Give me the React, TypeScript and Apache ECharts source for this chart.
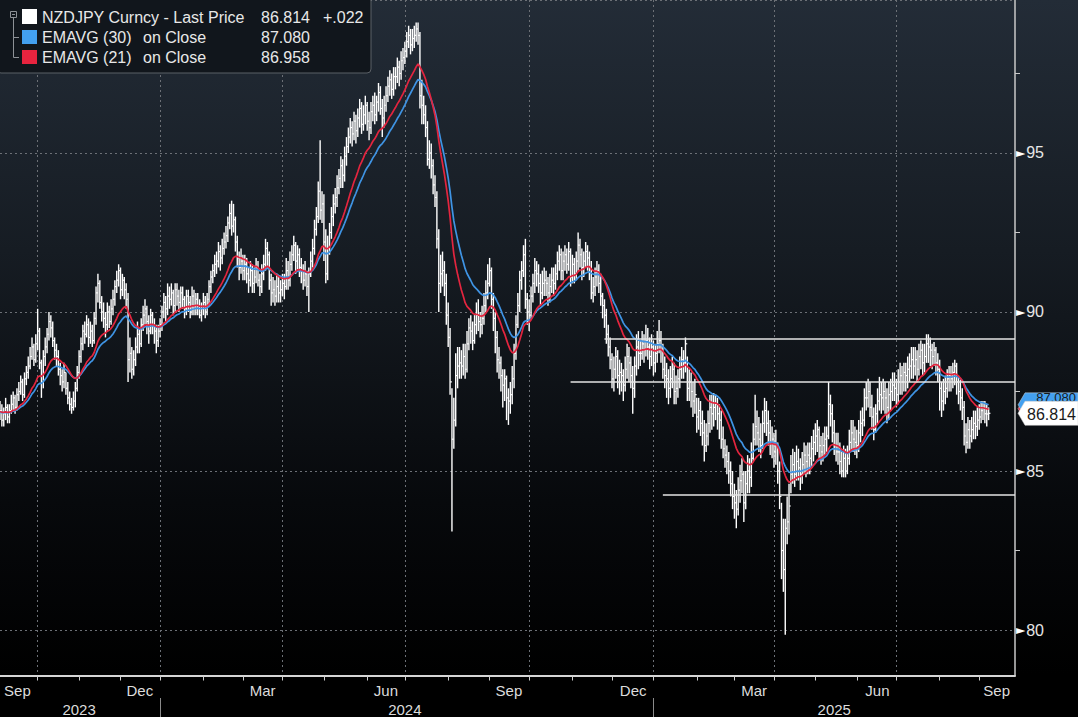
import React, { useEffect, useRef } from "react";
import * as echarts from "echarts";

// ---------- DATA (daily bars: [high, low, close]) ----------
const START_DATE = "2023-09-04";
const AXIS_DAYS = 540;

const barsSep2023Dec2023: number[][] = [
  [87.2,86.6,86.9],[87.1,86.4,86.6],[87.0,86.4,86.8],[87.3,86.6,87.0],[87.1,86.5,86.7],
  [87.1,86.5,86.9],[87.4,86.8,87.1],[87.5,86.9,87.3],[87.4,86.8,87.0],[87.6,86.9,87.4],
  [87.8,87.2,87.5],[88.0,87.4,87.8],[87.9,87.2,87.4],[88.1,87.3,87.9],[88.3,87.7,88.1],
  [88.6,87.9,88.3],[88.9,88.2,88.6],[89.2,88.5,88.9],[89.0,88.3,88.5],[89.3,88.4,89.0],
  [90.1,88.8,89.4],[89.5,88.2,88.4],[88.5,87.3,87.8],[88.8,87.6,88.6],[89.2,88.3,88.9],
  [89.5,88.7,89.3],[90.0,89.1,89.7],[89.9,89.2,89.5],[89.7,88.9,89.1],[89.2,88.5,88.8],
  [89.0,88.3,88.6],[88.8,88.0,88.2],[88.4,87.7,88.0],[88.2,87.5,87.8],[88.4,87.6,88.1],
  [88.1,87.4,87.6],[87.8,87.1,87.3],[87.5,86.9,87.1],[87.3,86.8,87.0],[87.5,86.9,87.2],
  [87.8,87.0,87.6],[88.3,87.5,88.1],[88.8,87.9,88.6],[89.2,88.4,89.0],[89.6,88.8,89.4],
  [89.7,89.0,89.3],[89.9,89.2,89.6],[89.8,88.9,89.2],[89.7,89.0,89.4],[89.6,88.9,89.1],
  [90.0,89.0,89.8],[90.8,89.6,90.6],[91.2,90.3,90.9],[91.0,90.1,90.3],[90.5,89.7,90.0],
  [90.3,89.5,89.8],[90.0,89.2,89.6],[90.3,89.4,90.0],[90.2,89.5,89.7],[90.4,89.6,90.1],
  [90.7,89.9,90.4],[91.0,90.2,90.8],[91.3,90.6,91.0],[91.5,90.8,91.3],[91.4,90.4,90.7],
  [91.2,90.5,91.0],[91.1,90.4,90.7],[90.9,90.1,90.4],[90.6,87.8,88.5],[89.2,88.1,88.7],
  [88.9,87.9,88.2],[88.8,88.0,88.5],[89.2,88.3,88.9],[89.7,88.7,89.3],[89.5,88.7,89.0],
  [89.8,88.9,89.6],[90.2,89.4,89.9],[90.4,89.6,90.1],[90.2,89.3,89.7],[89.9,89.0,89.4],
  [90.1,89.3,89.9],[90.0,89.3,89.6],[89.8,89.0,89.4],[89.6,88.7,89.1],[89.6,88.9,89.4],
];

const barsJan2024Jun2024: number[][] = [
  [89.8,89.2,89.6],[90.2,89.4,90.0],[90.6,89.8,90.3],[90.5,89.7,90.1],[90.9,89.9,90.5],
  [90.8,90.1,90.4],[90.9,90.2,90.6],[90.7,89.9,90.2],[90.9,90.0,90.7],[90.9,90.2,90.5],
  [90.7,90.0,90.3],[90.8,90.1,90.6],[90.8,90.1,90.4],[90.5,89.8,90.1],[90.7,89.9,90.5],
  [90.7,90.0,90.3],[90.5,89.8,90.0],[90.8,89.9,90.5],[90.7,89.9,90.2],[90.6,89.9,90.4],
  [90.6,89.9,90.2],[90.4,89.8,89.9],[90.3,89.7,90.1],[90.6,89.9,90.3],[90.5,89.8,90.0],
  [90.6,89.9,90.4],[91.0,90.2,90.8],[91.3,90.6,91.1],[91.5,90.9,91.3],[91.8,91.1,91.5],
  [91.9,91.2,91.6],[92.2,91.4,91.9],[92.1,91.3,91.7],[92.3,91.5,92.0],[92.5,91.8,92.2],
  [92.7,92.0,92.4],[93.0,92.2,92.8],[93.4,92.6,93.1],[93.5,92.4,92.7],[93.4,92.5,92.9],
  [93.0,91.9,92.2],[92.4,91.4,91.7],[91.9,91.0,91.4],[92.0,91.2,91.6],[91.8,91.0,91.3],
  [91.8,91.0,91.5],[91.7,90.9,91.2],[91.4,90.6,91.0],[91.6,90.8,91.3],[91.5,90.6,90.9],
  [91.4,90.6,91.1],[91.7,90.9,91.4],[91.6,90.8,91.0],[91.2,90.5,90.8],[91.5,90.6,91.2],
  [91.8,91.0,91.5],[92.3,91.3,92.0],[92.2,91.4,91.8],[91.9,90.7,91.0],[91.2,90.2,90.6],
  [91.1,90.3,90.7],[91.0,90.2,90.5],[91.2,90.3,90.8],[91.1,90.3,90.6],[91.0,90.3,90.7],
  [91.2,90.5,90.9],[91.2,90.4,90.8],[91.7,90.7,91.3],[91.6,90.7,91.0],[91.9,90.8,91.5],
  [92.1,91.3,91.8],[92.4,91.6,92.1],[92.2,91.2,91.6],[92.1,91.3,91.8],[92.0,91.1,91.4],
  [91.7,90.9,91.3],[91.5,90.7,91.0],[91.6,90.8,91.2],[91.3,90.5,90.8],[91.4,90.0,91.2],
  [91.9,91.1,91.6],[92.3,91.4,92.0],[92.9,91.8,92.6],[93.3,92.4,93.0],[94.1,92.8,93.8],
  [95.4,92.9,93.2],[93.8,92.8,93.4],[93.7,91.6,92.2],[92.6,90.9,91.2],[92.4,91.0,92.0],
  [92.8,91.8,92.5],[93.3,92.3,93.0],[93.7,92.7,93.4],[93.9,93.1,93.6],[94.3,93.3,93.9],
  [94.5,93.7,94.2],[94.9,93.9,94.6],[94.8,93.9,94.3],[95.2,94.1,94.9],[95.5,94.6,95.2],
  [95.8,95.0,95.5],[96.1,95.3,95.8],[96.0,95.2,95.6],[96.3,95.4,96.0],[96.2,95.3,95.7],
  [96.4,95.5,96.1],[96.7,95.8,96.4],[96.6,95.6,95.9],[96.5,95.7,96.2],[96.8,95.9,96.5],
  [96.6,95.7,96.0],[96.3,95.4,95.8],[96.6,95.6,96.3],[96.8,96.0,96.5],[96.9,95.9,96.2],
  [96.8,96.0,96.6],[97.2,96.3,96.9],[97.1,96.2,96.4],[96.7,95.5,96.1],[96.8,95.8,96.5],
  [97.1,96.3,96.8],[97.4,96.6,97.1],[97.6,96.8,97.3],[97.5,96.7,97.0],[97.7,96.8,97.4],
  [97.7,97.0,97.4],[98.0,97.2,97.7],[97.9,97.1,97.5],[98.2,97.3,97.9],[98.3,97.6,98.0],
];

const barsJul2024Dec2024: number[][] = [
  [98.5,97.8,98.2],[98.8,98.0,98.5],[99.0,98.3,98.7],[98.9,98.1,98.4],[98.9,98.2,98.6],
  [99.0,98.3,98.7],[99.1,98.5,98.9],[99.1,98.4,98.7],[98.8,96.4,96.8],[97.3,95.9,96.5],
  [96.8,95.9,96.2],[96.5,95.5,95.8],[96.0,94.6,94.8],[95.4,94.5,95.0],[95.3,94.2,94.6],
  [94.8,93.7,94.0],[94.3,93.3,93.6],[93.8,92.0,92.3],[92.6,90.0,90.9],[91.8,90.6,91.2],
  [91.9,90.8,91.3],[91.6,90.5,90.9],[91.2,89.6,89.9],[90.3,88.9,89.2],[89.5,87.4,87.8],
  [87.6,83.1,86.0],[87.3,85.7,86.6],[88.7,86.4,88.0],[88.9,87.6,88.3],[88.9,87.9,88.4],
  [88.8,87.9,88.3],[89.0,88.0,88.6],[89.0,87.9,88.2],[89.4,88.1,89.0],[89.8,88.8,89.5],
  [89.9,89.0,89.4],[89.7,88.8,89.1],[89.9,89.0,89.6],[90.3,89.3,89.9],[90.4,89.4,89.7],
  [90.0,89.2,89.6],[90.2,89.3,89.8],[90.6,89.6,90.2],[91.0,90.0,90.6],[91.5,90.4,90.9],
  [91.7,90.8,91.3],[91.4,90.1,90.4],[90.6,89.4,89.8],[90.0,88.7,89.2],[89.4,88.1,88.5],
  [88.9,87.9,88.4],[88.6,87.5,88.0],[88.2,87.0,87.7],[88.2,87.2,87.9],[88.0,86.6,87.3],
  [87.6,86.45,87.2],[87.8,86.8,87.4],[88.3,87.1,87.9],[89.0,87.6,88.7],[89.9,88.5,89.6],
  [90.6,89.5,90.2],[91.3,90.0,91.0],[91.6,90.7,91.3],[92.1,91.1,91.8],[92.3,90.1,90.4],
  [90.6,89.6,90.0],[90.4,89.4,89.9],[90.8,89.8,90.5],[91.2,90.3,90.9],[91.7,90.6,91.3],
  [91.6,90.8,91.2],[91.5,90.6,90.9],[91.2,90.2,90.6],[91.3,90.4,90.9],[91.4,90.5,91.0],
  [91.3,90.5,90.9],[91.1,90.2,90.6],[91.2,90.3,90.8],[91.4,90.6,91.0],[91.4,90.5,90.9],
  [91.5,90.7,91.2],[91.9,91.0,91.6],[92.1,91.3,91.8],[92.0,91.0,91.3],[91.9,91.0,91.6],
  [92.1,91.3,91.8],[92.0,91.2,91.5],[92.2,91.3,91.9],[92.0,90.8,91.1],[91.8,90.9,91.5],
  [91.7,90.9,91.2],[91.9,91.0,91.6],[92.5,91.3,92.1],[92.3,91.4,91.8],[92.0,91.0,91.4],
  [91.9,91.1,91.6],[92.2,91.4,91.9],[92.1,91.3,91.7],[91.9,91.0,91.4],[91.6,90.4,90.6],
  [91.1,90.3,90.8],[91.4,90.5,91.1],[91.6,90.8,91.3],[91.5,90.6,90.9],[91.2,90.2,90.5],
  [90.6,89.8,90.2],[90.4,89.5,89.9],[90.1,89.0,89.3],[89.6,88.6,88.9],[89.2,88.2,88.5],
  [88.7,87.6,87.9],[88.6,87.5,88.2],[88.9,87.9,88.6],[88.8,87.6,88.0],[88.5,87.4,88.1],
  [88.4,87.5,88.0],[88.2,87.2,87.7],[88.6,87.5,88.2],[89.0,87.9,88.6],[88.9,87.8,88.4],
  [88.6,87.6,88.0],[88.3,86.8,87.6],[88.6,87.3,88.3],[89.3,88.0,88.9],[89.4,88.2,88.7],
  [89.1,88.3,88.7],[89.4,88.5,89.0],[89.3,88.4,88.8],[89.6,88.6,89.1],[89.5,88.5,88.9],
];

const barsJan2025Sep2025: number[][] = [
  [89.2,88.2,88.6],[89.3,88.3,88.9],[89.1,88.0,88.4],[89.0,88.1,88.7],[89.4,88.4,89.0],
  [89.75,88.7,89.1],[89.4,88.4,88.8],[89.0,87.9,88.2],[88.6,87.6,88.0],[88.4,87.3,87.9],
  [88.2,87.1,87.6],[88.3,87.3,87.9],[88.6,87.6,88.2],[88.4,87.1,87.5],[88.0,87.1,87.6],
  [88.2,87.3,87.9],[88.6,87.6,88.2],[88.9,87.9,88.5],[88.8,87.9,88.4],[89.2,88.1,89.0],
  [88.6,87.2,87.6],[88.2,87.2,87.8],[88.1,87.0,87.5],[87.8,86.7,87.2],[87.9,86.8,87.4],
  [87.3,86.2,86.7],[87.3,86.3,86.9],[87.2,86.1,86.5],[86.9,85.8,86.2],[86.6,85.3,85.8],
  [86.5,85.6,86.1],[86.9,85.8,86.5],[87.4,86.2,87.0],[87.4,86.3,86.8],[87.45,86.4,87.0],
  [87.4,86.6,87.1],[87.3,86.3,86.8],[87.1,86.0,86.6],[86.9,85.7,86.0],[86.4,85.4,85.7],
  [86.0,85.1,85.5],[85.8,84.9,85.3],[85.6,84.6,85.0],[85.3,84.2,84.6],[85.0,83.8,84.2],
  [84.6,83.5,84.0],[84.4,83.2,83.8],[84.8,83.6,84.4],[85.2,84.0,84.7],[85.4,84.3,84.9],
  [85.0,83.4,84.0],[85.0,83.8,84.6],[85.5,84.3,85.0],[85.4,84.3,84.8],[85.9,84.5,85.4],
  [86.5,85.3,86.0],[87.4,85.8,86.4],[86.9,85.8,86.2],[86.7,85.6,86.0],[86.5,85.4,85.8],
  [86.9,85.7,86.5],[87.3,86.2,86.9],[87.2,86.1,86.5],[86.9,85.8,86.2],[86.6,85.5,85.9],
  [86.4,85.4,86.0],[86.2,85.1,85.6],[86.3,85.2,85.8],[85.9,84.6,85.0],[85.3,83.8,84.2],
  [84.0,81.6,82.5],[83.5,81.2,81.9],[83.5,79.85,83.2],[84.2,82.7,83.4],[84.6,83.0,83.9],
  [85.5,84.3,84.9],[85.7,84.6,85.2],[85.6,84.5,84.9],[85.8,84.7,85.3],[85.7,84.7,85.1],
  [85.4,84.4,84.9],[85.6,84.6,85.2],[85.9,84.9,85.5],[85.8,84.8,85.3],[85.9,84.9,85.5],
  [85.9,84.9,85.4],[86.1,85.1,85.7],[86.3,85.3,85.9],[86.5,85.5,86.1],[86.6,85.6,86.3],
  [86.4,85.4,85.8],[86.1,85.2,85.6],[86.2,85.3,85.8],[86.4,85.5,86.0],[86.4,85.6,86.1],
  [87.8,86.0,87.1],[87.4,86.4,86.8],[87.1,85.9,86.2],[86.6,85.5,85.8],[86.2,85.3,85.6],
  [86.2,85.2,85.6],[85.9,84.9,85.3],[85.6,84.8,85.0],[85.8,84.8,85.4],[85.7,84.8,85.0],
  [85.8,84.9,85.4],[86.3,85.2,85.9],[86.6,85.6,86.2],[86.6,85.6,86.0],[86.4,85.5,85.9],
  [86.3,85.4,85.8],[86.6,85.6,86.2],[86.9,85.9,86.5],[87.0,86.1,86.6],[87.6,86.4,87.3],
  [87.8,86.9,87.3],[87.9,87.0,87.5],[87.8,86.7,87.0],[87.4,86.3,86.7],[87.0,85.97,86.3],
  [87.1,86.2,86.8],[87.6,86.5,87.2],[87.96,86.9,87.4],[87.8,86.8,87.3],[87.9,86.9,87.5],
  [87.8,86.8,87.3],[87.6,86.5,87.0],[87.8,86.6,87.4],[87.9,86.9,87.5],[88.1,87.2,87.7],
  [88.1,87.2,87.6],[87.9,87.0,87.4],[88.2,87.1,87.8],[88.4,87.4,88.0],[88.3,87.4,87.8],
  [88.4,87.5,88.1],[88.4,87.5,88.0],[88.6,87.6,88.2],[88.7,87.8,88.3],[88.9,87.9,88.5],
  [88.9,87.9,88.3],[88.9,88.0,88.5],[88.8,87.8,88.2],[89.0,88.0,88.6],[89.1,88.2,88.8],
  [89.0,88.0,88.4],[89.0,88.1,88.6],[89.3,88.4,89.0],[89.3,88.4,88.9],[89.2,88.3,88.8],
  [89.0,88.2,88.6],[89.06,88.3,88.8],[88.9,88.0,88.4],[88.7,87.8,88.2],[88.5,86.9,87.6],
  [87.8,86.7,87.2],[87.9,86.9,87.5],[88.0,87.1,87.6],[88.2,87.3,87.9],[88.3,87.5,88.0],
  [88.3,87.5,87.9],[88.4,87.6,88.1],[88.5,87.7,88.3],[88.4,87.4,87.8],[88.0,87.1,87.5],
  [87.86,86.9,87.3],[87.6,86.6,87.0],[87.2,85.8,86.1],[86.5,85.56,85.9],[86.7,85.7,86.3],
  [86.6,85.7,86.1],[86.7,85.9,86.3],[86.9,86.0,86.5],[86.9,86.0,86.4],[87.0,86.1,86.6],
  [87.1,86.3,86.7],[87.2,86.5,86.9],[87.2,86.6,87.0],[87.2,86.5,86.8],[87.1,86.4,86.792],
  [87.0,86.6,86.814],
];

const emaSeed30 = 86.85;
const emaSeed21 = 86.87;

const legendTitle = "NZDJPY Curncy - Last Price";
const lastPrice = 86.814;
const lastChange = "+.022";
const ema30Last = 87.08;
const ema21Last = 86.958;

// horizontal level lines drawn on the chart: start date and value
const levelStarts = ["2024-11-26", "2024-10-31", "2025-01-08"];
const levelValues = [89.15, 87.81, 84.25];

const monthNames = ["Jan","Feb","Mar","Apr","May","Jun","Jul","Aug","Sep","Oct","Nov","Dec"];
const labelledMonths = [2, 5, 8, 11]; // Mar, Jun, Sep, Dec
const gridMonths = [0, 3, 6, 9];

// ---------- derived ----------
const bars = [...barsSep2023Dec2023, ...barsJan2024Jun2024, ...barsJul2024Dec2024, ...barsJan2025Sep2025];
const closes = bars.map((b) => b[2]);

function ema(values: number[], n: number, seed: number) {
  const k = 2 / (n + 1);
  let e = seed;
  return values.map((v) => {
    e = e + k * (v - e);
    return +e.toFixed(4);
  });
}
const ema30 = ema(closes, 30, emaSeed30);
const ema21 = ema(closes, 21, emaSeed21);

const dates: string[] = [];
{
  const [y, m, d] = START_DATE.split("-").map(Number);
  const dt = new Date(Date.UTC(y, m - 1, d));
  while (dates.length < AXIS_DAYS) {
    const wd = dt.getUTCDay();
    if (wd !== 0 && wd !== 6) dates.push(dt.toISOString().slice(0, 10));
    dt.setUTCDate(dt.getUTCDate() + 1);
  }
}
const monthOf = (s: string) => Number(s.slice(5, 7)) - 1;
const monthKey = (s: string) => s.slice(0, 7);

const tickSet = new Set<number>();
const splitSet = new Set<number>();
const yearTickSet = new Set<number>();
for (let i = 1; i < dates.length; i++) {
  if (monthKey(dates[i]) !== monthKey(dates[i - 1])) {
    tickSet.add(i);
    if (gridMonths.includes(monthOf(dates[i]))) splitSet.add(i);
  }
  if (dates[i].slice(0, 4) !== dates[i - 1].slice(0, 4)) yearTickSet.add(i);
}
// month labels are right-aligned at the end of their month
const labelSet = new Set<number>();
const yearLabelSet = new Set<number>();
{
  const groups: Record<string, number[]> = {};
  const ygroups: Record<string, number[]> = {};
  dates.forEach((s, i) => {
    (groups[monthKey(s)] ||= []).push(i);
    (ygroups[s.slice(0, 4)] ||= []).push(i);
  });
  Object.keys(groups).forEach((k) => {
    const arr = groups[k];
    if (labelledMonths.includes(monthOf(dates[arr[0]]))) {
      labelSet.add(arr[arr.length - 1]);
    }
  });
  Object.keys(ygroups).forEach((k) => {
    const arr = ygroups[k];
    yearLabelSet.add(arr[Math.floor((arr.length - 1) / 2)]);
  });
}

const FONT = '"Liberation Sans", Arial, sans-serif';

export default function App() {
  const ref = useRef<HTMLDivElement>(null);
  useEffect(() => {
    if (!ref.current) return;
    const chart = echarts.init(ref.current, undefined, { renderer: "svg" });
    const lastIdx = dates.length - 1;

    const barData = bars.map((b, i) => [i, b[0], b[1], b[2]]);

    const option: any = {
      animation: false,
      backgroundColor: new echarts.graphic.LinearGradient(0, 0, 0, 1, [
        { offset: 0, color: "#232c37" },
        { offset: 0.35, color: "#161c23" },
        { offset: 0.7, color: "#07090c" },
        { offset: 0.94, color: "#000000" },
        { offset: 1, color: "#000000" },
      ]),
      textStyle: { fontFamily: FONT },
      grid: {
        left: 0,
        right: 63,
        top: 0,
        bottom: 41.5,
        containLabel: false,
        outerBoundsMode: "none",
      },
      xAxis: [
        {
          type: "category",
          data: dates,
          boundaryGap: false,
          axisLine: { show: true, lineStyle: { color: "#d6d6d6", width: 2 } },
          axisTick: {
            show: true,
            interval: (i: number) => tickSet.has(i),
            length: 5,
            lineStyle: { color: "#cfcfcf", width: 1 },
          },
          axisLabel: {
            show: true,
            interval: (i: number) => labelSet.has(i),
            formatter: (v: string) => monthNames[monthOf(v)],
            color: "#dcdcdc",
            fontSize: 15,
            fontFamily: FONT,
            margin: 7,
            align: "right",
            padding: [0, 5, 0, 0],
            showMinLabel: true,
            showMaxLabel: true,
          },
          splitLine: {
            show: true,
            interval: (i: number) => splitSet.has(i),
            lineStyle: { color: "#6c7076", type: [2, 3], width: 1 },
          },
        },
        {
          type: "category",
          data: dates,
          boundaryGap: false,
          position: "bottom",
          offset: 22.5,
          axisLine: { show: false },
          axisTick: {
            show: true,
            interval: (i: number) => yearTickSet.has(i),
            length: 22,
            lineStyle: { color: "#8a8a8a", width: 1 },
          },
          axisLabel: {
            show: true,
            interval: (i: number) => yearLabelSet.has(i),
            formatter: (v: string) => v.slice(0, 4),
            color: "#dcdcdc",
            fontSize: 15,
            fontFamily: FONT,
            margin: 4,
          },
          splitLine: { show: false },
        },
      ],
      yAxis: {
        type: "value",
        position: "right",
        min: 78.57,
        max: 99.81,
        splitNumber: 4,
        axisLine: { show: true, lineStyle: { color: "#c9c9c9", width: 1.5 } },
        axisTick: { show: false },
        minorTick: { show: true, splitNumber: 2, length: 5, lineStyle: { color: "#c9c9c9" } },
        axisLabel: {
          margin: 1,
          showMinLabel: false,
          showMaxLabel: false,
          formatter: (v: number) => `{t|►}{n|${v}}`,
          rich: {
            t: { color: "#ffffff", fontSize: 12, lineHeight: 18, fontFamily: "DejaVu Sans" },
            n: { color: "#e6e6e6", fontSize: 16, lineHeight: 18, fontFamily: FONT, padding: [0, 0, 0, 1] },
          },
        },
        splitLine: { show: true, lineStyle: { color: "#6c7076", type: [2, 3], width: 1 } },
      },
      series: [
        {
          type: "custom",
          name: legendTitle,
          data: barData,
          encode: { x: 0, y: [1, 2] },
          z: 2,
          renderItem: (params: any, api: any) => {
            const x = api.value(0);
            const pH = api.coord([x, api.value(1)]);
            const pL = api.coord([x, api.value(2)]);
            const pC = api.coord([x, api.value(3)]);
            return {
              type: "group",
              children: [
                {
                  type: "line",
                  shape: { x1: pH[0], y1: pH[1], x2: pL[0], y2: pL[1] },
                  style: { stroke: "#ffffff", lineWidth: 1.4 },
                },
                {
                  type: "line",
                  shape: { x1: pC[0], y1: pC[1], x2: pC[0] + 1.8, y2: pC[1] },
                  style: { stroke: "#ffffff", lineWidth: 1.2 },
                },
              ],
            };
          },
          markLine: {
            silent: true,
            symbol: ["none", "none"],
            label: { show: false },
            lineStyle: { color: "#e4e4e4", width: 1.5, type: "solid" },
            data: levelValues.map((v, k) => [
              { xAxis: dates.indexOf(levelStarts[k]), yAxis: v },
              { xAxis: lastIdx, yAxis: v },
            ]),
          },
        },
        {
          type: "line",
          name: "EMAVG (30) on Close",
          data: ema30,
          showSymbol: false,
          symbol: "none",
          z: 3,
          lineStyle: { color: "#3f94e4", width: 1.7 },
        },
        {
          type: "line",
          name: "EMAVG (21) on Close",
          data: ema21,
          showSymbol: false,
          symbol: "none",
          z: 4,
          lineStyle: { color: "#e3253f", width: 1.7 },
        },
      ],
    };
    chart.setOption(option);

    const tagShape = (value: number, fill: string) => {
      const py = chart.convertToPixel({ yAxisIndex: 0 }, value) as number;
      return {
        type: "polygon",
        x: 1015,
        y: py,
        shape: { points: [[3, 0], [10, -12], [63, -12], [63, 12], [10, 12]] },
        style: { fill, stroke: "#d0d0d0", lineWidth: 0.5 },
      };
    };
    const tagText = (value: number, text: string, fill: string, size: number, dy: number) => {
      const py = chart.convertToPixel({ yAxisIndex: 0 }, value) as number;
      return {
        type: "text",
        x: 1076,
        y: py + dy,
        style: {
          text,
          fill,
          font: `${size}px ${FONT}`,
          textAlign: "right",
          textVerticalAlign: "middle",
          align: "right",
          verticalAlign: "middle",
        },
      };
    };

    const legendText = (x: number, y: number, text: string) => ({
      type: "text",
      x,
      y,
      style: {
        text,
        fill: "#e8e8e8",
        font: `16px ${FONT}`,
        textVerticalAlign: "middle",
        verticalAlign: "middle",
      },
    });

    const legend = {
      type: "group",
      x: 0,
      y: 0,
      children: [
        {
          type: "rect",
          shape: { x: -3, y: -3, width: 374, height: 76, r: 4 },
          style: { fill: "#11161c", stroke: "#5b6066", lineWidth: 1 },
        },
        { type: "rect", shape: { x: 10.5, y: 11.5, width: 6, height: 6 }, style: { fill: "none", stroke: "#8d9196", lineWidth: 1 } },
        { type: "line", shape: { x1: 12, y1: 14.5, x2: 15, y2: 14.5 }, style: { stroke: "#8d9196", lineWidth: 1 } },
        { type: "line", shape: { x1: 13.5, y1: 18, x2: 13.5, y2: 57.5 }, style: { stroke: "#8d9196", lineWidth: 1 } },
        { type: "line", shape: { x1: 13.5, y1: 37.5, x2: 19, y2: 37.5 }, style: { stroke: "#8d9196", lineWidth: 1 } },
        { type: "line", shape: { x1: 13.5, y1: 57.5, x2: 19, y2: 57.5 }, style: { stroke: "#8d9196", lineWidth: 1 } },
        { type: "rect", shape: { x: 22, y: 9, width: 15, height: 15 }, style: { fill: "#ffffff" } },
        { type: "rect", shape: { x: 22, y: 30, width: 15, height: 14 }, style: { fill: "#43a0f0" } },
        { type: "rect", shape: { x: 22, y: 50, width: 15, height: 14 }, style: { fill: "#e8243f" } },
        legendText(42, 17, legendTitle),
        legendText(261, 17, lastPrice.toFixed(3)),
        legendText(323, 17, lastChange),
        legendText(42, 37, "EMAVG (30)"),
        legendText(143, 37, "on Close"),
        legendText(261, 37, ema30Last.toFixed(3)),
        legendText(42, 57, "EMAVG (21)"),
        legendText(143, 57, "on Close"),
        legendText(261, 57, ema21Last.toFixed(3)),
      ],
    };

    chart.setOption({
      graphic: [
        legend,
        tagShape(ema21Last, "#e8243f"),
        tagShape(ema30Last, "#43a0f0"),
        tagText(ema30Last, ema30Last.toFixed(3), "#1a1a1a", 13, -7),
        tagShape(lastPrice, "#ffffff"),
        tagText(lastPrice, lastPrice.toFixed(3), "#1a1a1a", 16, 1),
      ],
    });

    return () => chart.dispose();
  }, []);

  return (
    <div
      ref={ref}
      style={{ position: "fixed", left: 0, top: 0, width: 1078, height: 717 }}
    />
  );
}
